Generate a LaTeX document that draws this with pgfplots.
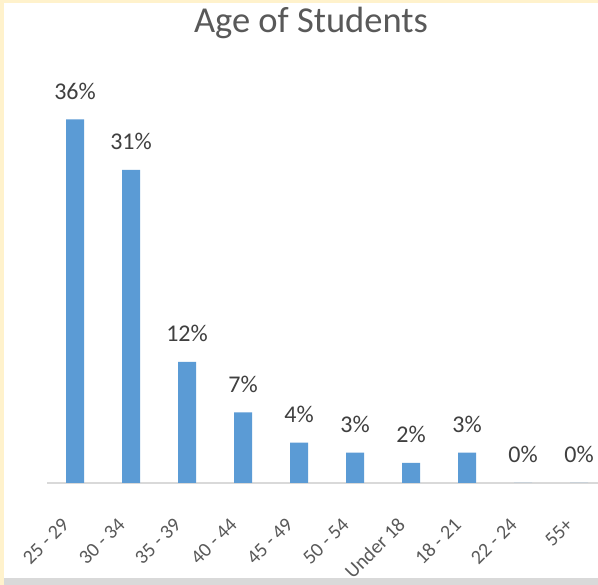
\documentclass[border=0pt]{standalone}
\usepackage{fontspec}
\setmainfont{Carlito}
\usepackage{pgfplots}
\pgfplotsset{compat=1.18}
\definecolor{barblue}{HTML}{5B9BD5}
\definecolor{cream}{HTML}{FFF2CC}
\definecolor{txtgray}{HTML}{595959}
\definecolor{lblgray}{HTML}{404040}
\definecolor{axgray}{HTML}{D9D9D9}
\begin{document}
\begin{tikzpicture}[x=1pt,y=1pt]
% frame of the cropped chart
\fill[cream] (0,0) rectangle (598,585);
\fill[white] (4,7) rectangle (598,582);
\fill[axgray] (4,0) rectangle (598,7);
\node[anchor=base, text=txtgray, font=\fontsize{36.5}{42}\selectfont] at (311,552) {Age of Students};
\begin{scope}
\clip (4,7) rectangle (598,582);
\begin{axis}[
    at={(75pt,102pt)}, anchor=origin,
    scale only axis,
    width=560pt, height=404pt,
    xmin=-0.5, xmax=9.5,
    ymin=0, ymax=40,
    ybar, bar width=18pt,
    axis y line=none,
    axis x line*=bottom,
    axis line style={axgray, line width=1.5pt},
    xtick={0,...,9},
    xticklabels={25 - 29, 30 - 34, 35 - 39, 40 - 44, 45 - 49, 50 - 54, Under 18, 18 - 21, 22 - 24, 55+},
    major tick length=0pt,
    xticklabel style={xshift=-7pt, yshift=-36pt, rotate=45, anchor=east,
        text=txtgray, font=\fontsize{20}{24}\selectfont},
    /pgf/number format/assume math mode=true,
    nodes near coords={\pgfmathprintnumber{\pgfplotspointmeta}\%},
    every node near coord/.append style={font=\fontsize{24}{28}\selectfont,
        text=lblgray, anchor=base, yshift=20pt},
]
\addplot[fill=barblue, draw=none] coordinates {
    (0,36) (1,31) (2,12) (3,7) (4,4) (5,3) (6,2) (7,3) (8,0) (9,0)
};
\end{axis}
\end{scope}
\pgfresetboundingbox
\useasboundingbox (0,0) rectangle (598,585);
\end{tikzpicture}
\end{document}
